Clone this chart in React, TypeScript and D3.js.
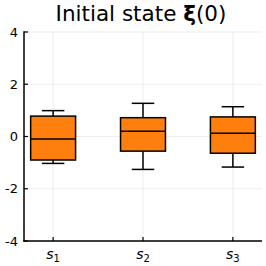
import { useEffect, useRef } from 'react';
import * as d3 from 'd3';

const categories = ['1', '2', '3'];
const whiskerLow = [-1.03, -1.26, -1.17];
const q1 = [-0.9, -0.56, -0.64];
const medians = [-0.1, 0.2, 0.12];
const q3 = [0.78, 0.72, 0.75];
const whiskerHigh = [0.99, 1.27, 1.14];
const yTicks = [-4, -2, 0, 2, 4];

const W = 266;
const H = 266;
const left = 24;
const right = 262;
const top = 32;
const bottom = 241;

export default function App() {
  const svgRef = useRef<SVGSVGElement>(null);

  useEffect(() => {
    document.body.style.margin = '0';
    const svg = d3.select(svgRef.current);
    svg.selectAll('*').remove();

    const x = d3.scaleLinear().domain([0.676, 3.324]).range([left, right]);
    const y = d3.scaleLinear().domain([-4, 4]).range([bottom, top]);
    const pos = categories.map((_, i) => i + 1);

    // grid
    svg.append('g')
      .selectAll('line')
      .data(yTicks)
      .join('line')
      .attr('x1', left).attr('x2', right)
      .attr('y1', d => y(d)).attr('y2', d => y(d))
      .attr('stroke', '#000').attr('stroke-opacity', 0.1).attr('stroke-width', 0.7);
    svg.append('g')
      .selectAll('line')
      .data(pos)
      .join('line')
      .attr('x1', d => x(d)).attr('x2', d => x(d))
      .attr('y1', top).attr('y2', bottom)
      .attr('stroke', '#000').attr('stroke-opacity', 0.1).attr('stroke-width', 0.7);

    // boxes
    const bw = 0.25;
    const sw = 1.5;
    const g = svg.append('g');
    pos.forEach((p, i) => {
      g.append('line')
        .attr('x1', x(p)).attr('x2', x(p))
        .attr('y1', y(whiskerHigh[i])).attr('y2', y(q3[i]))
        .attr('stroke', '#000').attr('stroke-width', sw);
      g.append('line')
        .attr('x1', x(p)).attr('x2', x(p))
        .attr('y1', y(q1[i])).attr('y2', y(whiskerLow[i]))
        .attr('stroke', '#000').attr('stroke-width', sw);
      [whiskerHigh[i], whiskerLow[i]].forEach(v => {
        g.append('line')
          .attr('x1', x(p - bw / 2)).attr('x2', x(p + bw / 2))
          .attr('y1', y(v)).attr('y2', y(v))
          .attr('stroke', '#000').attr('stroke-width', sw);
      });
      g.append('rect')
        .attr('x', x(p - bw)).attr('width', x(p + bw) - x(p - bw))
        .attr('y', y(q3[i])).attr('height', y(q1[i]) - y(q3[i]))
        .attr('fill', '#ff7f0e')
        .attr('stroke', '#000').attr('stroke-width', sw);
      g.append('line')
        .attr('x1', x(p - bw)).attr('x2', x(p + bw))
        .attr('y1', y(medians[i])).attr('y2', y(medians[i]))
        .attr('stroke', '#000').attr('stroke-width', sw);
    });

    // axes
    svg.append('line')
      .attr('x1', left).attr('x2', left).attr('y1', top - 0.7).attr('y2', bottom + 0.7)
      .attr('stroke', '#000').attr('stroke-width', 1.5);
    svg.append('line')
      .attr('x1', left - 0.7).attr('x2', right).attr('y1', bottom).attr('y2', bottom)
      .attr('stroke', '#000').attr('stroke-width', 1.5);

    svg.append('g')
      .selectAll('line')
      .data(yTicks)
      .join('line')
      .attr('x1', left).attr('x2', left + 4)
      .attr('y1', d => y(d)).attr('y2', d => y(d))
      .attr('stroke', '#000').attr('stroke-width', 1.2);
    svg.append('g')
      .selectAll('line')
      .data(pos)
      .join('line')
      .attr('x1', d => x(d)).attr('x2', d => x(d))
      .attr('y1', bottom).attr('y2', bottom - 4)
      .attr('stroke', '#000').attr('stroke-width', 1.2);

    svg.append('g')
      .selectAll('text')
      .data(yTicks)
      .join('text')
      .attr('x', left - 6)
      .attr('y', d => y(d))
      .attr('dy', '0.35em')
      .attr('text-anchor', 'end')
      .attr('font-family', 'DejaVu Sans')
      .attr('font-size', 13)
      .text(d => String(d));

    const xl = svg.append('g')
      .selectAll('text')
      .data(categories)
      .join('text')
      .attr('x', (_, i) => x(pos[i]))
      .attr('y', bottom + 18)
      .attr('text-anchor', 'middle')
      .attr('font-family', 'DejaVu Sans')
      .attr('font-size', 14);
    xl.append('tspan').attr('font-style', 'italic').text('s');
    xl.append('tspan').attr('font-size', 10).attr('dy', 3).text(d => d);

    const t = svg.append('text')
      .attr('x', 141)
      .attr('y', 21)
      .attr('text-anchor', 'middle')
      .attr('font-family', 'DejaVu Sans')
      .attr('font-size', 21.5);
    t.append('tspan').text('Initial state ');
    t.append('tspan').attr('font-weight', 'bold').text('ξ');
    t.append('tspan').text('(0)');
  }, []);

  return <svg ref={svgRef} width={W} height={H} style={{ display: 'block', background: '#fff' }} />;
}
